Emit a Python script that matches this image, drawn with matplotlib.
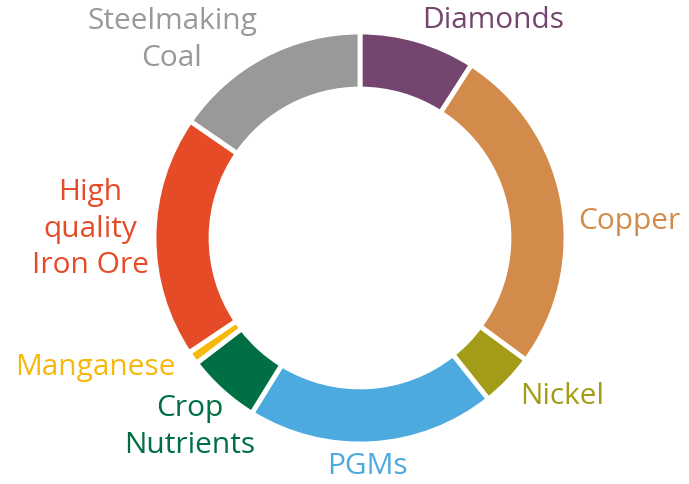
import numpy as np
import matplotlib.pyplot as plt

# share of each segment, clockwise from 12 o'clock
labels = ['Diamonds', 'Copper', 'Nickel', 'PGMs', 'Crop\nNutrients',
          'Manganese', 'High\nquality\nIron Ore', 'Steelmaking\nCoal']
values = [9.1, 26.0, 4.2, 19.5, 5.8, 1.0, 19.0, 15.4]
colors = ['#74466f', '#d38b4b', '#a39c18', '#4caade', '#006f44',
          '#f7b80c', '#e64b27', '#999999']

# label centres in pixels (layout only)
label_px = [(493, 21), (629, 222), (562, 397), (367, 466), (190, 427),
            (95, 368), (90, 229), (172, 40)]

W, H = 689, 484
cx, cy, R = 360, 238, 206

plt.rcParams['font.family'] = ['Open Sans', 'DejaVu Sans']

fig = plt.figure(figsize=(W / 100, H / 100), dpi=100)
ax = fig.add_axes([0, 0, 1, 1])

ax.pie(values, colors=colors, startangle=90, counterclock=False,
       radius=1, wedgeprops=dict(width=0.277, edgecolor='white', linewidth=3.5))

for lab, col, (px, py) in zip(labels, colors, label_px):
    ax.text((px - cx) / R, (cy - py) / R, lab, color=col, fontsize=21.5,
            ha='center', va='center', linespacing=1.36)

ax.set_xlim(-cx / R, (W - cx) / R)
ax.set_ylim((cy - H) / R, cy / R)
ax.set_aspect('equal')
ax.axis('off')

fig.savefig('out.png', dpi=100)
